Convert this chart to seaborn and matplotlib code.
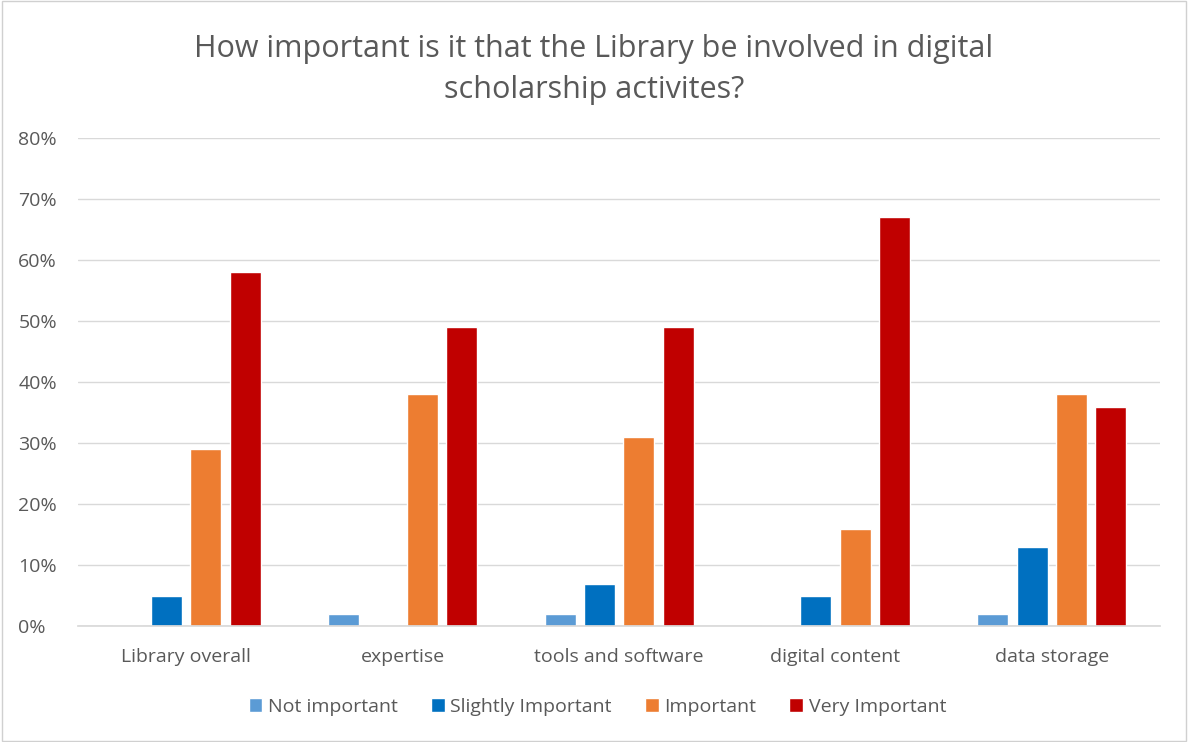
import matplotlib
matplotlib.use("Agg")
import matplotlib.pyplot as plt
import seaborn as sns
import pandas as pd
from matplotlib.ticker import PercentFormatter
from matplotlib.patches import Rectangle

categories = ["Library overall", "expertise", "tools and software", "digital content", "data storage"]
series = ["Not important", "Slightly Important", "Important", "Very Important"]
not_important = [0, 2, 2, 0, 2]
slightly_important = [5, 0, 7, 5, 13]
important = [29, 38, 31, 16, 38]
very_important = [58, 49, 49, 67, 36]
colors = ["#5B9BD5", "#0070C0", "#ED7D31", "#C00000"]

rows = []
for name, vals in zip(series, [not_important, slightly_important, important, very_important]):
    for c, v in zip(categories, vals):
        rows.append({"category": c, "series": name, "value": v / 100})
df = pd.DataFrame(rows)

sns.set_theme(style="white")
plt.rcParams['font.family'] = ['Open Sans', 'DejaVu Sans']
gray = "#595959"

fig = plt.figure(figsize=(11.88, 7.42), dpi=100)
ax = fig.add_axes([0.0657, 0.156, 0.9108, 0.658])
sns.barplot(data=df, x="category", y="value", hue="series", order=categories,
            hue_order=series, palette=colors, width=0.727, gap=0.21, ax=ax,
            saturation=1, errorbar=None)

ax.set_ylim(0, 0.8)
ax.set_yticks([i / 10 for i in range(9)])
ax.yaxis.set_major_formatter(PercentFormatter(1.0, decimals=0))
ax.grid(axis="y", color="#D9D9D9", linewidth=1)
ax.set_axisbelow(True)
for s in ["left", "right", "top"]:
    ax.spines[s].set_visible(False)
ax.spines["bottom"].set_color("#D9D9D9")
ax.set_xlabel("")
ax.set_ylabel("")
ax.tick_params(axis="both", length=0, labelsize=14, colors=gray)
ax.tick_params(axis="x", pad=16)
ax.tick_params(axis="y", pad=43)
for lab in ax.get_yticklabels():
    lab.set_horizontalalignment("left")

leg = ax.legend(loc="center", bbox_to_anchor=(0.48, -0.165), ncol=4, frameon=False,
                fontsize=14, handlelength=0.7, handleheight=0.7, handletextpad=0.3,
                columnspacing=1.7, labelcolor=gray)

fig.text(0.5, 0.906, "How important is it that the Library be involved in digital\nscholarship activites?",
         ha="center", va="center", fontsize=22, color=gray, linespacing=1.5)

fig.patches.append(Rectangle((0.002, 0.002), 0.996, 0.996, transform=fig.transFigure,
                             fill=False, edgecolor="#D0D0D0", linewidth=1))

fig.savefig("out.png", dpi=100)
